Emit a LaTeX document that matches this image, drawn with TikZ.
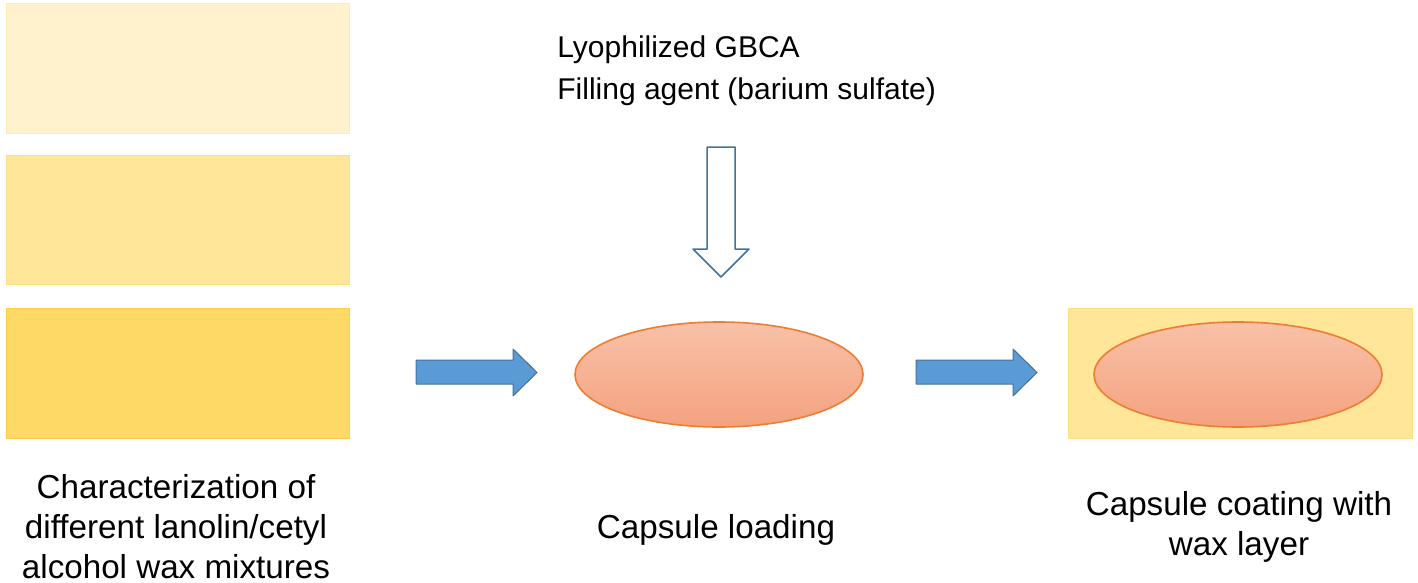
\documentclass[tikz,border=0pt]{standalone}
\usepackage{fontspec}
\setmainfont{Liberation Sans}
\usetikzlibrary{shapes.geometric}
\definecolor{waxA}{HTML}{FFF2CC}
\definecolor{waxB}{HTML}{FFE699}
\definecolor{waxC}{HTML}{FFD966}
\definecolor{waxAline}{HTML}{FFEBB0}
\definecolor{waxBline}{HTML}{FFDF80}
\definecolor{waxCline}{HTML}{FFCF40}
\definecolor{capTop}{HTML}{F8C1A8}
\definecolor{capBot}{HTML}{F4A27F}
\definecolor{capLine}{HTML}{ED7D31}
\definecolor{arrFill}{HTML}{5B9BD5}
\definecolor{arrLine}{HTML}{41719C}
\begin{document}
\begin{tikzpicture}[x=0.5pt,y=-0.5pt,
  waxbox/.style={rectangle, inner sep=0pt, line width=0.5pt, minimum width=171.5pt, minimum height=65pt},
  capsule/.style={ellipse, inner sep=0pt, minimum width=144pt, minimum height=52.5pt, draw=capLine, line width=0.8pt, top color=capTop, bottom color=capBot},
  blockarrow/.style={fill=arrFill, draw=arrLine, line width=0.5pt, line join=round},
  hollowarrow/.style={fill=white, draw=arrLine, line width=0.75pt, line join=round},
  label/.style={inner sep=0pt, align=center, font=\fontsize{16.6}{20}\selectfont},
  toplabel/.style={inner sep=0pt, align=left, font=\fontsize{15}{21}\selectfont}
]
\useasboundingbox (0,0) rectangle (1418,583);
% wax mixture samples
\node[waxbox, fill=waxA, draw=waxAline] (r1) at (177.5,69) {};
\node[waxbox, fill=waxB, draw=waxBline, minimum height=64.5pt] (r2) at (177.5,219.5) {};
\node[waxbox, fill=waxC, draw=waxCline] (r3) at (177.5,373) {};
% capsule loading
\node[capsule] (c1) at (719,374.5) {};
% coated capsule
\node[waxbox, fill=waxB, draw=waxBline, minimum width=172pt] (r4) at (1240,373) {};
\node[capsule] (c2) at (1238,374.5) {};
% block arrows
\draw[blockarrow] (416,360) -- (513,360) -- (513,349) -- (537,372.5) -- (513,396) -- (513,384) -- (416,384) -- cycle;
\draw[blockarrow] (916,360) -- (1013,360) -- (1013,349) -- (1037,372.5) -- (1013,396) -- (1013,384) -- (916,384) -- cycle;
\draw[hollowarrow] (707,147) -- (735,147) -- (735,249) -- (749,249) -- (721,277) -- (693,249) -- (707,249) -- cycle;
% labels
\node[toplabel, anchor=west] (t0) at (557,71) {Lyophilized GBCA\\Filling agent (barium sulfate)};
\node[label] (t1) at (176,527) {Characterization of\\different lanolin/cetyl\\alcohol wax mixtures};
\node[label] (t2) at (716,530) {Capsule loading};
\node[label] (t3) at (1239,527) {Capsule coating with\\wax layer};
\end{tikzpicture}
\end{document}
